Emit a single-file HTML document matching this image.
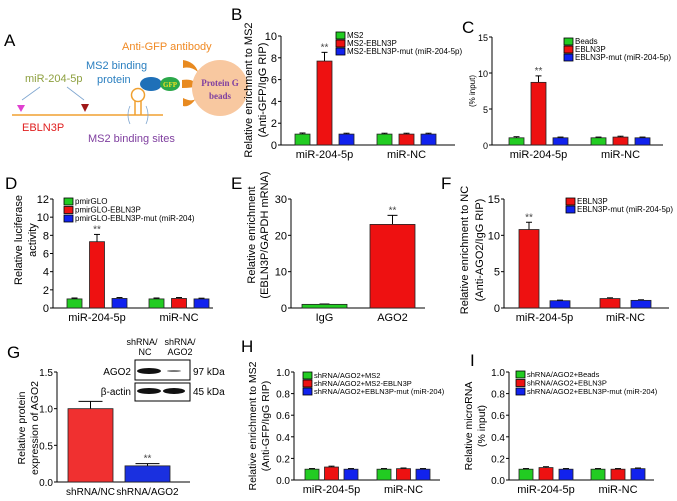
<!DOCTYPE html>
<html><head><meta charset="utf-8"><style>
body{margin:0;background:#fff}
svg{display:block;font-family:"Liberation Sans",sans-serif}
</style></head><body>
<svg id="fig" width="677" height="501" viewBox="0 0 677 501">
<g>
<text x="4" y="46" font-size="17">A</text>
<text x="122" y="50" font-size="11" fill="#f08a24">Anti-GFP antibody</text>
<text x="86" y="69" font-size="11" fill="#2a7fc0">MS2 binding</text>
<text x="97" y="83" font-size="11" fill="#2a7fc0">protein</text>
<text x="25" y="82" font-size="11" fill="#8ea040">miR-204-5p</text>
<line x1="40" y1="87" x2="22" y2="100" stroke="#7fa6d0" stroke-width="0.8"/>
<line x1="67" y1="87" x2="84" y2="100" stroke="#7fa6d0" stroke-width="0.8"/>
<line x1="12" y1="115" x2="163" y2="115" stroke="#f0a030" stroke-width="1.5"/>
<polygon points="17,105 25,105 21,112" fill="#e040d0"/>
<polygon points="81,104 89,104 85,112" fill="#a01818"/>
<text x="22" y="131" font-size="11" fill="#e02020">EBLN3P</text>
<text x="88" y="142" font-size="11" fill="#8040a0">MS2 binding sites</text>
<path d="M135,115 L135,101 M141,115 L141,101" stroke="#f0a030" stroke-width="1.5" fill="none"/>
<circle cx="138" cy="95" r="6.5" fill="none" stroke="#f0a030" stroke-width="1.5"/>
<path d="M130,106 Q126,115 130,124 M146,106 Q150,115 146,124" stroke="#7fa6d0" stroke-width="0.8" fill="none"/>
<ellipse cx="151" cy="84" rx="11" ry="7" fill="#1f70b8"/>
<ellipse cx="170" cy="84" rx="10" ry="7" fill="#2ba84a"/>
<text x="170" y="87" font-size="7" fill="#f0e020" text-anchor="middle" font-family="Liberation Serif,serif" font-weight="bold">GFP</text>
<path d="M183,60 Q195,62 198,72 Q191,66 183,68Z M182,80 Q194,78 198,86 Q192,88 182,88Z M183,98 Q195,104 198,95 Q191,108 183,106Z" fill="#e88a20"/>
<circle cx="220" cy="88" r="28" fill="#f8c8a0"/>
<text x="220" y="86" font-size="9" fill="#8040a0" text-anchor="middle" font-family="Liberation Serif,serif" font-weight="bold">Protein G</text>
<text x="220" y="99" font-size="9" fill="#8040a0" text-anchor="middle" font-family="Liberation Serif,serif" font-weight="bold">beads</text>
</g>
<g>
<text x="142" y="345" font-size="9" text-anchor="middle">shRNA/</text>
<text x="145" y="355" font-size="9" text-anchor="middle">NC</text>
<text x="180" y="345" font-size="9" text-anchor="middle">shRNA/</text>
<text x="180" y="355" font-size="9" text-anchor="middle">AGO2</text>
<rect x="135" y="360" width="55" height="20" fill="#fff" stroke="#000"/>
<rect x="135" y="383" width="55" height="18" fill="#fff" stroke="#000"/>
<ellipse cx="149" cy="371" rx="12" ry="3" fill="#111"/>
<ellipse cx="174" cy="371" rx="7" ry="1" fill="#777"/>
<ellipse cx="149" cy="391" rx="12" ry="3" fill="#111"/>
<ellipse cx="174" cy="391" rx="11" ry="3" fill="#111"/>
<text x="131" y="375" font-size="10" text-anchor="end">AGO2</text>
<text x="131" y="395" font-size="10" text-anchor="end">β-actin</text>
<text x="193" y="375" font-size="10">97 kDa</text>
<text x="193" y="395" font-size="10">45 kDa</text>
</g>
</svg>
<script>
const bCategories=['miR-204-5p','miR-NC'];
const bSeries=['MS2','MS2-EBLN3P','MS2-EBLN3P-mut (miR-204-5p)'];
const bValues=[[1,7.7,1],[1,1,1]];
const bErrors=[[0.1,0.8,0.08],[0.08,0.08,0.08]];
const bTicks=[0,2,4,6,8,10];

const cCategories=['miR-204-5p','miR-NC'];
const cSeries=['Beads','EBLN3P','EBLN3P-mut (miR-204-5p)'];
const cValues=[[1,8.7,1],[1,1.1,1]];
const cErrors=[[0.15,0.9,0.1],[0.1,0.12,0.1]];
const cTicks=[0,5,10,15];

const dCategories=['miR-204-5p','miR-NC'];
const dSeries=['pmirGLO','pmirGLO-EBLN3P','pmirGLO-EBLN3P-mut (miR-204)'];
const dValues=[[1,7.3,1.05],[1,1.05,1]];
const dErrors=[[0.1,0.8,0.1],[0.1,0.1,0.08]];
const dTicks=[0,2,4,6,8,10,12];

const eCategories=['IgG','AGO2'];
const eValues=[[1],[23]];
const eErrors=[[0.1],[2.5]];
const eTicks=[0,10,20,30];

const fCategories=['miR-204-5p','miR-NC'];
const fSeries=['EBLN3P','EBLN3P-mut (miR-204-5p)'];
const fValues=[[10.8,1],[1.3,1.05]];
const fErrors=[[1,0.08],[0.1,0.08]];
const fTicks=[0,5,10,15];

const gCategories=['shRNA/NC','shRNA/AGO2'];
const gValues=[[1],[0.22]];
const gErrors=[[0.1],[0.03]];
const gTickLabels=['0.0','0.5','1.0','1.5'];

const hCategories=['miR-204-5p','miR-NC'];
const hSeries=['shRNA/AGO2+MS2','shRNA/AGO2+MS2-EBLN3P','shRNA/AGO2+EBLN3P-mut (miR-204)'];
const hValues=[[0.1,0.12,0.1],[0.1,0.105,0.1]];
const hErrors=[[0.006,0.008,0.006],[0.006,0.006,0.006]];
const hiTickLabels=['0.0','0.2','0.4','0.6','0.8','1.0'];

const iCategories=['miR-204-5p','miR-NC'];
const iSeries=['shRNA/AGO2+Beads','shRNA/AGO2+EBLN3P','shRNA/AGO2+EBLN3P-mut (miR-204)'];
const iValues=[[0.1,0.115,0.1],[0.1,0.1,0.105]];
const iErrors=[[0.006,0.008,0.006],[0.006,0.006,0.006]];

const G3=['#22cc22','#ee1111','#1122ee'];
const svg=document.getElementById('fig');
const NS='http://www.w3.org/2000/svg';
function mk(tag,attrs,parent){const e=document.createElementNS(NS,tag);for(const k in attrs)e.setAttribute(k,attrs[k]);(parent||svg).appendChild(e);return e;}
function txt(x,y,s,size,anchor,parent,extra){const t=mk('text',Object.assign({x:x,y:y,'font-size':size,'text-anchor':anchor||'start'},extra||{}),parent);t.textContent=s;return t;}

function panel(p){
  const g=mk('g',{});
  
  
  const yScale=v=>p.y0-(v/p.max)*(p.y0-p.yTop);
  mk('line',{x1:p.x0,y1:p.yTop,x2:p.x0,y2:p.y0,stroke:'#000','stroke-width':1},g);
  mk('line',{x1:p.x0,y1:p.y0,x2:p.x1,y2:p.y0,stroke:'#000','stroke-width':1},g);
  p.ticks.forEach((t,i)=>{const y=yScale(t);
    mk('line',{x1:p.x0-3,y1:y,x2:p.x0,y2:y,stroke:'#000'},g);
    const lab=txt(p.x0-4,y+4,p.tickLabels?p.tickLabels[i]:String(t),p.tickSize||11,'end',g);
    
    
  });
  p.values.forEach((grp,gi)=>{
    grp.forEach((v,si)=>{
      const x=p.starts[gi]+si*p.step;
      const y=yScale(v);
      const col=p.colorByCat?p.colors[gi]:p.colors[si];
      const ey=yScale(v+p.errors[gi][si]);
      mk('line',{x1:x+p.w/2,y1:y,x2:x+p.w/2,y2:ey,stroke:'#000'},g);
      mk('line',{x1:x+p.w/2-(p.capW||3),y1:ey,x2:x+p.w/2+(p.capW||3),y2:ey,stroke:'#000'},g);
      const r=mk('rect',{x:x,y:y,width:p.w,height:p.y0-y,fill:col,stroke:'#222','stroke-width':0.8},g);
      
      
      if(p.stars&&p.stars[gi]===si){
        const st=txt(x+p.w/2,ey-2,'**',10,'middle',g,{fill:'#444'});
        
        
      }
    });
    const n=grp.length;
    const cx=p.starts[gi]+((n-1)*p.step+p.w)/2;
    const cl=txt(cx,p.y0+13,p.categories[gi],p.catSize||11,'middle',g);
    
    
  });
  if(p.series){p.series.forEach((s,i)=>{
    const ly=p.legY+i*p.legStep;
    mk('rect',{x:p.legX,y:ly-6,width:9,height:7,fill:p.colors[i],stroke:'#000','stroke-width':0.8},g);
    const lt=txt(p.legX+11,ly,s,p.legSize||8,'start',g);
    
    
  });}
  p.title.forEach((line,i)=>{
    const tx=p.titleX+i*p.titleStep;
    const t=txt(tx,p.titleY,line,p.titleSize||11,'middle',g,{transform:'rotate(-90 '+tx+' '+p.titleY+')'});
    
    
  });
  const L=txt(p.letX,p.letY,p.letter,17,'start',g);
  
  
}

panel({name:'panel-b-chart',key:'b',letter:'B',letX:231,letY:20,x0:281,x1:455,yTop:36,y0:145,max:10,ticks:bTicks,
  values:bValues,errors:bErrors,starts:[295,377],w:15,step:22,colors:G3,stars:[1],categories:bCategories,
  series:bSeries,legX:336,legY:38,legStep:8,title:['Relative enrichment to MS2','(Anti-GFP/IgG RIP)'],titleX:252,titleStep:14,titleY:90});
panel({name:'panel-c-chart',key:'c',letter:'C',letX:462,letY:33,x0:492,x1:663,yTop:37,y0:145,max:15,ticks:cTicks,tickSize:9,
  values:cValues,errors:cErrors,starts:[509,591],w:15,step:22,colors:G3,stars:[1],categories:cCategories,
  series:cSeries,legX:564,legY:44,legStep:8,title:['(% input)'],titleX:475,titleStep:0,titleY:91,titleSize:8});
panel({name:'panel-d-chart',key:'d',letter:'D',letX:5,letY:189,x0:53,x1:213,yTop:199,y0:308,max:12,ticks:dTicks,
  values:dValues,errors:dErrors,starts:[67,149],w:15,step:22.5,colors:G3,stars:[1],categories:dCategories,
  series:dSeries,legX:64,legY:204,legStep:8.5,title:['Relative luciferase','activity'],titleX:22,titleStep:14,titleY:240});
panel({name:'panel-e-chart',key:'e',letter:'E',letX:231,letY:189,x0:291,x1:425,yTop:199,y0:308,max:30,ticks:eTicks,
  values:eValues,errors:eErrors,starts:[302,370],w:45,step:0,colors:['#22cc22','#ee1111'],colorByCat:true,stars:[null,0],categories:eCategories,capW:5,
  title:['Relative enrichment','(EBLN3P/GAPDH mRNA)'],titleX:255,titleStep:13,titleY:235});
panel({name:'panel-f-chart',key:'f',letter:'F',letX:441,letY:189,x0:504,x1:669,yTop:199,y0:308,max:15,ticks:fTicks,
  values:fValues,errors:fErrors,starts:[519,600],w:20,step:31,colors:['#ee1111','#1122ee'],stars:[0],categories:fCategories,
  series:fSeries,legX:566,legY:204,legStep:8,title:['Relative enrichment to NC','(Anti-AGO2/IgG RIP)'],titleX:468,titleStep:15,titleY:250});
panel({name:'panel-g-chart',key:'g',letter:'G',letX:7,letY:358,x0:57,x1:190,yTop:372,y0:482,max:1.5,ticks:[0,0.5,1,1.5],tickLabels:gTickLabels,tickSize:10,
  values:gValues,errors:gErrors,starts:[68,125],w:45,step:0,colors:['#f03030','#1a30e0'],colorByCat:true,stars:[null,0],categories:gCategories,capW:12,catSize:10,
  title:['Relative protein','expression of AGO2'],titleX:25,titleStep:13,titleY:428,titleSize:10.5});
panel({name:'panel-h-chart',key:'h',letter:'H',letX:241,letY:352,x0:294,x1:440,yTop:372,y0:480,max:1,ticks:[0,0.2,0.4,0.6,0.8,1],tickLabels:hiTickLabels,tickSize:10,
  values:hValues,errors:hErrors,starts:[305,377],w:14,step:19.5,colors:G3,categories:hCategories,
  series:hSeries,legX:303,legY:378,legStep:8,legSize:7.5,title:['Relative enrichment to MS2','(Anti-GFP/IgG RIP)'],titleX:256,titleStep:13,titleY:426,titleSize:10.5});
panel({name:'panel-i-chart',key:'i',letter:'I',letX:470,letY:366,x0:509,x1:654,yTop:372,y0:480,max:1,ticks:[0,0.2,0.4,0.6,0.8,1],tickLabels:hiTickLabels,tickSize:10,
  values:iValues,errors:iErrors,starts:[519,591],w:14,step:20,colors:G3,categories:iCategories,
  series:iSeries,legX:516,legY:377,legStep:8.5,legSize:7.5,title:['Relative microRNA','(% input)'],titleX:472,titleStep:13,titleY:426,titleSize:10.5});
</script>
</body></html>
